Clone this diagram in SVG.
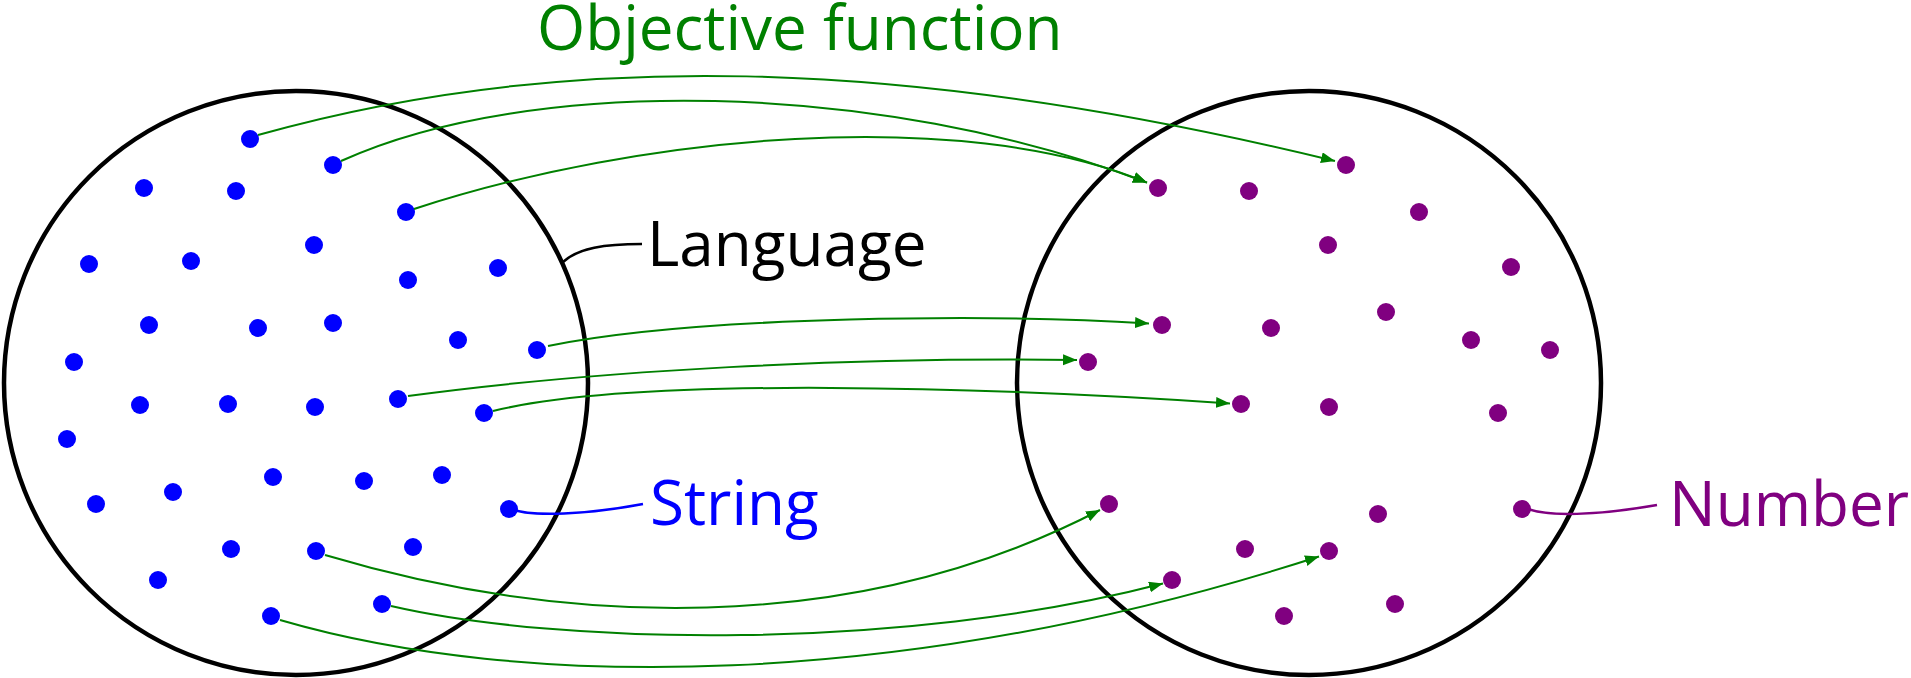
<svg xmlns="http://www.w3.org/2000/svg" width="1911" height="678" viewBox="0 0 1911 678">
<style>
.set{fill:none;stroke:#000;stroke-width:4.5}
.s{fill:#0000ff}
.n{fill:#800080}
.f{fill:none;stroke:#008000;stroke-width:2}
.lbl{font-family:"Open Sans","Noto Sans","Liberation Sans",sans-serif;font-size:62px}
</style>
<defs>
<marker id="ah" markerUnits="userSpaceOnUse" markerWidth="15" markerHeight="12" refX="14" refY="5.5" orient="auto">
<path d="M0,0 L14,5.5 L0,11 z" fill="#008000"/>
</marker>
</defs>
<rect width="1911" height="678" fill="#fff"/>
<g id="language">
<circle class="set" cx="296" cy="383" r="292"/>
<path d="M563,262 C578,248 605,244 642,244" fill="none" stroke="#000" stroke-width="2.5"/>
<text class="lbl" x="647" y="266" fill="#000">Language</text>
</g>
<g id="numbers">
<circle class="set" cx="1309" cy="383" r="292"/>
</g>
<g id="strings">
<circle class="s" cx="250" cy="139" r="9"/><circle class="s" cx="333" cy="165" r="9"/><circle class="s" cx="144" cy="188" r="9"/><circle class="s" cx="236" cy="191" r="9"/><circle class="s" cx="406" cy="212" r="9"/><circle class="s" cx="314" cy="245" r="9"/><circle class="s" cx="89" cy="264" r="9"/><circle class="s" cx="191" cy="261" r="9"/><circle class="s" cx="408" cy="280" r="9"/><circle class="s" cx="498" cy="268" r="9"/><circle class="s" cx="149" cy="325" r="9"/><circle class="s" cx="258" cy="328" r="9"/><circle class="s" cx="333" cy="323" r="9"/><circle class="s" cx="458" cy="340" r="9"/><circle class="s" cx="537" cy="350" r="9"/><circle class="s" cx="74" cy="362" r="9"/><circle class="s" cx="140" cy="405" r="9"/><circle class="s" cx="228" cy="404" r="9"/><circle class="s" cx="315" cy="407" r="9"/><circle class="s" cx="398" cy="399" r="9"/><circle class="s" cx="484" cy="413" r="9"/><circle class="s" cx="67" cy="439" r="9"/><circle class="s" cx="273" cy="477" r="9"/><circle class="s" cx="364" cy="481" r="9"/><circle class="s" cx="442" cy="475" r="9"/><circle class="s" cx="96" cy="504" r="9"/><circle class="s" cx="173" cy="492" r="9"/><circle class="s" cx="509" cy="509" r="9"/><circle class="s" cx="231" cy="549" r="9"/><circle class="s" cx="316" cy="551" r="9"/><circle class="s" cx="413" cy="547" r="9"/><circle class="s" cx="158" cy="580" r="9"/><circle class="s" cx="382" cy="604" r="9"/><circle class="s" cx="271" cy="616" r="9"/>
</g>
<g id="string-label">
<path d="M509,508 C530,518 590,514 643,504" fill="none" stroke="#0000ff" stroke-width="2.5"/>
<text class="lbl" x="650" y="525" fill="#0000ff">String</text>
</g>
<g id="number-points">
<circle class="n" cx="1158" cy="188" r="9"/><circle class="n" cx="1249" cy="191" r="9"/><circle class="n" cx="1346" cy="165" r="9"/><circle class="n" cx="1419" cy="212" r="9"/><circle class="n" cx="1328" cy="245" r="9"/><circle class="n" cx="1511" cy="267" r="9"/><circle class="n" cx="1162" cy="325" r="9"/><circle class="n" cx="1271" cy="328" r="9"/><circle class="n" cx="1386" cy="312" r="9"/><circle class="n" cx="1471" cy="340" r="9"/><circle class="n" cx="1550" cy="350" r="9"/><circle class="n" cx="1088" cy="362" r="9"/><circle class="n" cx="1241" cy="404" r="9"/><circle class="n" cx="1329" cy="407" r="9"/><circle class="n" cx="1498" cy="413" r="9"/><circle class="n" cx="1109" cy="504" r="9"/><circle class="n" cx="1378" cy="514" r="9"/><circle class="n" cx="1522" cy="509" r="9"/><circle class="n" cx="1245" cy="549" r="9"/><circle class="n" cx="1329" cy="551" r="9"/><circle class="n" cx="1172" cy="580" r="9"/><circle class="n" cx="1395" cy="604" r="9"/><circle class="n" cx="1284" cy="616" r="9"/>
</g>
<g id="number-label">
<path d="M1523,507 C1545,518 1600,515 1657,505" fill="none" stroke="#800080" stroke-width="2.5"/>
<text class="lbl" x="1669" y="526" fill="#800080">Number</text>
</g>
<g id="objective-label">
<text class="lbl" x="537" y="50" fill="#008000">Objective function</text>
</g>
<g id="connectors">
<path class="f" marker-end="url(#ah)" d="M258,135 C560,50 900,55 1335,161"/>
<path class="f" marker-end="url(#ah)" d="M341,161 C530,75 880,80 1147,182.6"/>
<path class="f" marker-end="url(#ah)" d="M414,209 C640,135 960,105 1147,182.6"/>
<path class="f" marker-end="url(#ah)" d="M548,346 C700,315 1000,314 1149,323.5"/>
<path class="f" marker-end="url(#ah)" d="M408,396 C600,370 850,357 1077,360"/>
<path class="f" marker-end="url(#ah)" d="M493,411 C640,375 1000,388 1230,403.4"/>
<path class="f" marker-end="url(#ah)" d="M325,555 C560,625 850,640 1100,510"/>
<path class="f" marker-end="url(#ah)" d="M391,606 C560,645 900,652 1163,583.5"/>
<path class="f" marker-end="url(#ah)" d="M280,620 C520,690 900,692 1319,556.5"/>
</g>
</svg>
